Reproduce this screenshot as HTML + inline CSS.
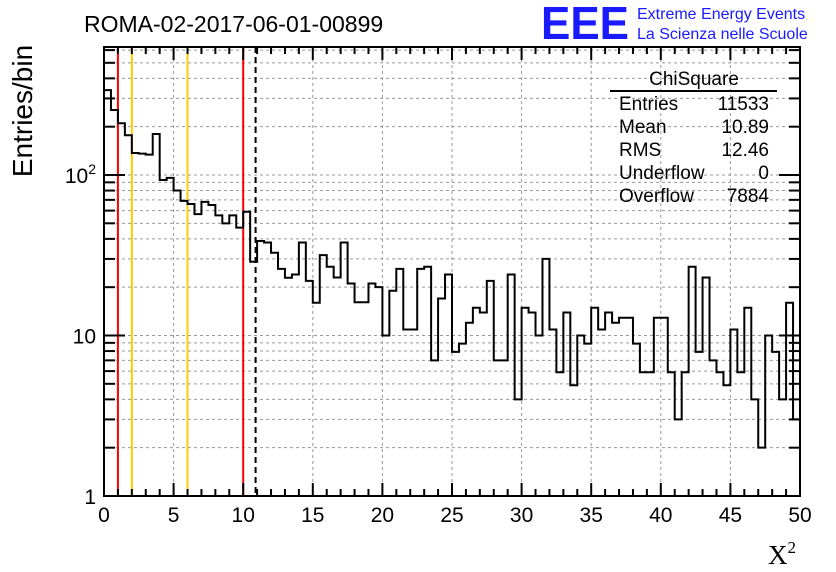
<!DOCTYPE html>
<html><head><meta charset="utf-8"><style>
html,body{margin:0;padding:0;background:#fff;}
svg{display:block;font-family:"Liberation Sans",sans-serif;}
</style></head><body>
<svg id="chart" width="836" height="572" viewBox="0 0 836 572" xmlns="http://www.w3.org/2000/svg">
<rect width="836" height="572" fill="#fff"/>
<g id="grid"></g>
<g id="refs"></g>
<path id="hist" fill="none" stroke="#000" stroke-width="2"/>
<g id="axes"></g>
<text x="84" y="32" font-size="23">ROMA-02-2017-06-01-00899</text>
<text x="541" y="39" font-size="46" font-weight="bold" fill="#1a1aff" textLength="88" lengthAdjust="spacingAndGlyphs">EEE</text>
<text x="637" y="19" font-size="16" fill="#1a1aff">Extreme Energy Events</text>
<text x="637" y="39" font-size="16" fill="#1a1aff">La Scienza nelle Scuole</text>
<text transform="translate(32,111) rotate(-90)" text-anchor="middle" font-size="28">Entries/bin</text>
<text x="768" y="564" font-size="27" font-family="Liberation Serif,serif">X<tspan font-size="17" dy="-11">2</tspan></text>
<g font-size="19">
<text x="694" y="85" text-anchor="middle">ChiSquare</text>
<line x1="610" y1="91" x2="777" y2="91" stroke="#000" stroke-width="2"/>
<text x="619" y="110">Entries</text><text x="769" y="110" text-anchor="end">11533</text>
<text x="619" y="133">Mean</text><text x="769" y="133" text-anchor="end">10.89</text>
<text x="619" y="156">RMS</text><text x="769" y="156" text-anchor="end">12.46</text>
<text x="619" y="179">Underflow</text><text x="769" y="179" text-anchor="end">0</text>
<text x="619" y="202">Overflow</text><text x="769" y="202" text-anchor="end">7884</text>
</g>
</svg>
<script>
const binWidth = 0.5;
const counts = [338,254,210,177,137,136,134,180,93,96,80,69,66,57,68,65,56,50,56,47,
59,28.8,38.8,38,32.8,26,22.9,24,38,21.9,16,31.7,26.8,23,38,21.1,16.1,16.1,21.1,20,
10,19,26,10.9,10.9,26,26.8,7,17,24,7.9,8.9,12,14.9,13.9,21.9,7,7,24,4,
14.9,13.9,10,30,10.9,5.9,13.9,4.9,10,8.9,14.9,10.9,13.9,12,12.9,12.9,8.9,5.9,5.9,12.9,
12.9,5.9,3,5.9,26.8,7.9,23,7,5.9,4.9,10.9,5.9,14.9,4,2,10,7.9,4,16,3];
const xTicks = [0,5,10,15,20,25,30,35,40,45,50];
const yDecades = [1,10,100];
const yDecadeLabels = ["1","10","10²"];
const refLinesRed = [1,10];
const refLinesOrange = [2,6];
const meanValue = 10.89;

const X0=104,X1=800,Y0=496,YT=47,DEC=160.5;
const xs = v => X0 + (v-0)/(50-0)*(X1-X0);
const ys = v => Y0 - Math.log10(v)*DEC;
const NS="http://www.w3.org/2000/svg";
function mk(parent,tag,attrs){const e=document.createElementNS(NS,tag);for(const k in attrs)e.setAttribute(k,attrs[k]);parent.appendChild(e);return e;}
const grid=document.getElementById('grid'), axes=document.getElementById('axes'), refs=document.getElementById('refs');

xTicks.forEach(t=>{ if(t>0&&t<50){const l=mk(grid,'line',{x1:xs(t),x2:xs(t),y1:YT,y2:Y0,stroke:'#999','stroke-dasharray':'3,3','stroke-width':1});

}});
const minorY=[];
[1,10,100].forEach(d=>{for(let m=1;m<10;m++){const v=d*m; if(ys(v)>YT) minorY.push(v);}});
minorY.forEach(v=>{ if(v>1){const l=mk(grid,'line',{x1:X0,x2:X1,y1:ys(v),y2:ys(v),stroke:'#999','stroke-dasharray':'3,3','stroke-width':1});

}});

refLinesRed.forEach(v=>{const l=mk(refs,'line',{x1:xs(v),x2:xs(v),y1:YT,y2:Y0,stroke:'#f00','stroke-width':2});

});
refLinesOrange.forEach(v=>{const l=mk(refs,'line',{x1:xs(v),x2:xs(v),y1:YT,y2:Y0,stroke:'#fc0','stroke-width':2});

});
const ml=mk(refs,'line',{x1:xs(meanValue),x2:xs(meanValue),y1:YT,y2:Y0,stroke:'#000','stroke-width':2,'stroke-dasharray':'6,4'});



let d='';
counts.forEach((c,i)=>{const xa=xs(i*binWidth),xb=xs((i+1)*binWidth),y=Math.min(Y0,ys(Math.max(c,1)));
d+=(i===0?'M'+xa+','+y:'L'+xa+','+y)+'L'+xb+','+y;});
document.getElementById('hist').setAttribute('d',d);

const fr=mk(axes,'rect',{x:X0,y:YT,width:X1-X0,height:Y0-YT,fill:'none',stroke:'#000','stroke-width':2});


for(let v=0;v<=50;v++){const L=(v%5===0)?13:7;
mk(axes,'line',{x1:xs(v),x2:xs(v),y1:Y0,y2:Y0-L,stroke:'#000','stroke-width':2});
mk(axes,'line',{x1:xs(v),x2:xs(v),y1:YT,y2:YT+L,stroke:'#000','stroke-width':2});}
xTicks.forEach(t=>{const tx=mk(axes,'text',{x:xs(t),y:522,'text-anchor':'middle','font-size':21});tx.textContent=t;

});
minorY.forEach(v=>{const L=[1,10,100].includes(v)?21:11;
mk(axes,'line',{x1:X0,x2:X0+L,y1:ys(v),y2:ys(v),stroke:'#000','stroke-width':2});
mk(axes,'line',{x1:X1,x2:X1-L,y1:ys(v),y2:ys(v),stroke:'#000','stroke-width':2});});
yDecades.forEach((v,i)=>{const tx=mk(axes,'text',{x:96,y:ys(v)+8,'text-anchor':'end','font-size':21});
if(i===2){tx.textContent='10';const s=mk(tx,'tspan',{'font-size':14,dy:-9});s.textContent='2';}else tx.textContent=yDecadeLabels[i];

});
</script>
</body></html>
